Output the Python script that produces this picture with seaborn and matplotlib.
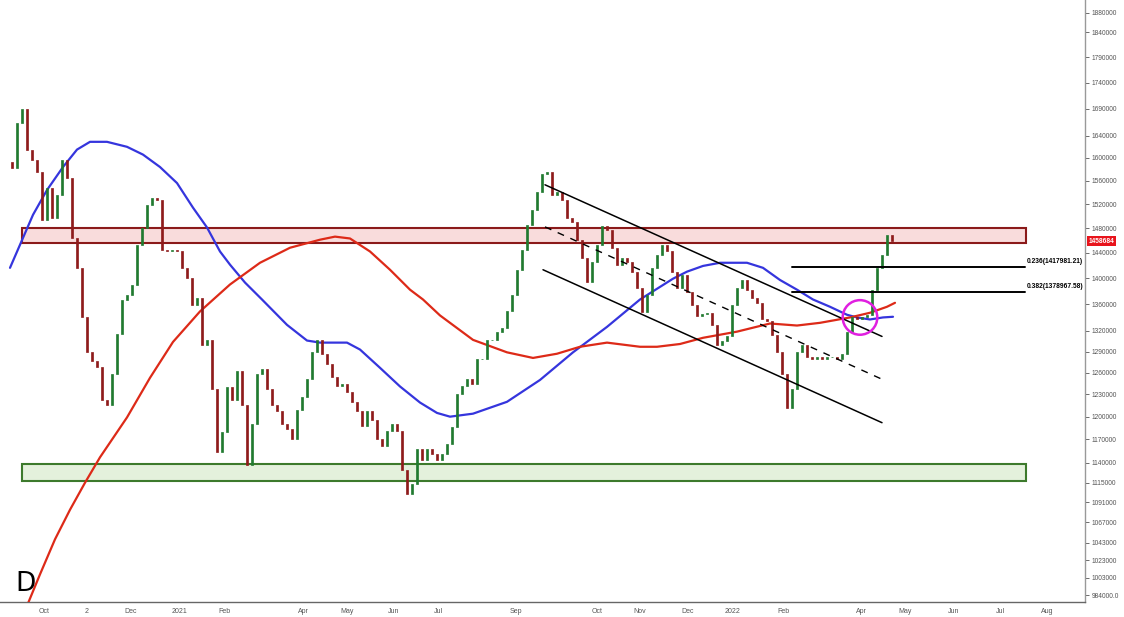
import numpy as np
import pandas as pd
import matplotlib
matplotlib.use("Agg")
import matplotlib.pyplot as plt
from matplotlib.patches import Rectangle
import seaborn as sns

# closing prices (thousands), one candle ~ every 2.5 trading days
close_k = [
    1583, 1663, 1690, 1615, 1597, 1576, 1494, 1548, 1497, 1535,
    1597, 1565, 1464, 1416, 1340, 1290, 1276, 1268, 1223, 1216,
    1258, 1316, 1367, 1374, 1389, 1453, 1480, 1518, 1530, 1527,
    1445, 1442, 1445, 1442, 1416, 1400, 1359, 1370, 1300, 1307,
    1237, 1154, 1180, 1240, 1223, 1262, 1216, 1137, 1190, 1258,
    1265, 1237, 1216, 1207, 1190, 1183, 1170, 1209, 1226, 1251,
    1290, 1307, 1286, 1272, 1254, 1241, 1244, 1234, 1220, 1207,
    1188, 1207, 1196, 1170, 1162, 1181, 1190, 1181, 1131, 1101,
    1114, 1157, 1144, 1157, 1151, 1144, 1151, 1164, 1186, 1230,
    1241, 1251, 1244, 1279, 1279, 1307, 1307, 1318, 1325, 1349,
    1374, 1413, 1445, 1485, 1510, 1541, 1571, 1576, 1535, 1541,
    1527, 1497, 1490, 1461, 1432, 1394, 1426, 1453, 1483, 1477,
    1448, 1421, 1432, 1426, 1410, 1385, 1348, 1374, 1416, 1437,
    1453, 1442, 1410, 1385, 1405, 1379, 1358, 1342, 1345, 1346,
    1329, 1299, 1305, 1313, 1358, 1385, 1397, 1382, 1370, 1362,
    1337, 1334, 1314, 1290, 1258, 1212, 1237, 1290, 1300, 1283,
    1279, 1283, 1279, 1282, 1283, 1279, 1286, 1319, 1340, 1337,
    1340, 1343, 1382, 1416, 1437, 1469, 1458.684,
]
first_open_k = 1592

# moving averages (candle index, thousands)
blue_idx = [-0.4, 2.2, 4.2, 7.0, 10.2, 13.0, 15.6, 19.0, 23.0, 26.2, 29.6, 33.0,
            36.2, 39.0, 41.6, 43.6, 46.6, 50.0, 55.0, 59.0, 61.6, 67.0, 69.6,
            73.6, 77.6, 81.6, 85.0, 87.6, 92.2, 99.0, 105.6, 112.2, 119.0,
            125.6, 132.2, 135.0, 138.2, 141.6, 147.0, 150.2, 153.6, 157.0,
            160.2, 163.6, 167.0, 169.0, 171.6, 174.2, 176.2]
blue_k = [1416, 1464, 1502, 1544, 1584, 1615, 1629, 1629, 1620, 1606, 1584, 1556,
          1514, 1481, 1442, 1421, 1393, 1367, 1329, 1306, 1303, 1303, 1293,
          1267, 1241, 1219, 1205, 1200, 1204, 1220, 1250, 1289, 1326,
          1367, 1399, 1410, 1419, 1424, 1424, 1416, 1397, 1382,
          1367, 1356, 1344, 1340, 1337, 1340, 1341]

red_idx = [2.0, 3.2, 5.6, 8.6, 11.6, 14.6, 17.6, 23.0, 27.6, 32.2, 37.6, 43.6,
           49.6, 55.6, 61.6, 64.6, 67.6, 71.6, 75.6, 79.6, 82.2, 85.6, 92.2,
           99.0, 104.2, 109.0, 113.6, 119.0, 125.6, 129.0, 133.6, 138.2, 145.0,
           151.6, 157.0, 161.6, 167.6, 171.6, 175.0, 176.6]
red_k = [947, 975, 1007, 1047, 1082, 1115, 1147, 1199, 1253, 1304, 1349, 1390,
         1424, 1448, 1461, 1466, 1463, 1442, 1413, 1382, 1367, 1343, 1307,
         1289, 1281, 1287, 1297, 1303, 1297, 1297, 1301, 1310, 1319,
         1331, 1328, 1332, 1340, 1347, 1356, 1362]

tick_idx = [6.4, 15.0, 23.8, 33.4, 42.4, 58.2, 67.0, 76.4, 85.2, 100.8,
            117.0, 125.6, 135.2, 144.2, 154.2, 169.8, 178.6, 188.4, 197.6, 207.0]
tick_labels = ["Oct", "2", "Dec", "2021", "Feb", "Apr", "May", "Jun", "Jul", "Sep",
               "Oct", "Nov", "Dec", "2022", "Feb", "Apr", "May", "Jun", "Jul", "Aug"]

price_ticks = [1880000, 1840000, 1790000, 1740000, 1690000, 1640000, 1600000,
               1560000, 1520000, 1480000, 1440000, 1400000, 1360000, 1320000,
               1290000, 1260000, 1230000, 1200000, 1170000, 1140000, 1115000,
               1091000, 1067000, 1043000, 1023000, 1003000, 984000]
price_tick_labels = [str(p) for p in price_ticks[:-1]] + ["984000.0"]

resistance = (1456000, 1480000)
support = (1117000, 1138000)
zone_span = (2.0, 202.8)

chan_idx = [106.6, 174.0]
chan_upper = [1553000, 1312000]
chan_mid = [1482000, 1251000]
chan_lower_idx = [106.2, 174.0]
chan_lower = [1413000, 1192000]

fib_levels = [1417981.21, 1378967.58]
fib_names = ["0.236", "0.382"]
fib_span = (156.0, 202.6)

last_price = 1458684
circle_at = (169.6, 1340000)

# ---- build candles
close = np.array(close_k) * 1000
opens = np.r_[first_open_k * 1000, close[:-1]]
df = pd.DataFrame({"idx": np.arange(len(close)), "open": opens, "close": close})
df["up"] = df["close"] >= df["open"]
df["lo"] = df[["open", "close"]].min(axis=1)
df["hi"] = df[["open", "close"]].max(axis=1)

GREEN = "#217a30"
RED = "#8e1b1b"

sns.set_style("white")
plt.rcParams["font.family"] = ["Liberation Sans", "DejaVu Sans"]

fig = plt.figure(figsize=(11.24, 6.17), dpi=100)
ax = fig.add_axes([0, 15 / 617, 1085 / 1124, 602 / 617])

ax.set_yscale("log")
ax.set_xlim(-2.4, 214.6)
ax.set_ylim(976500, 1907300)

# zones
ax.add_patch(Rectangle((zone_span[0], resistance[0]), zone_span[1] - zone_span[0],
                       resistance[1] - resistance[0], facecolor="#f9dcdc",
                       edgecolor="#8b1a1a", linewidth=1.5, zorder=1))
ax.add_patch(Rectangle((zone_span[0], support[0]), zone_span[1] - zone_span[0],
                       support[1] - support[0], facecolor="#e4f1dc",
                       edgecolor="#3d7a2c", linewidth=1.5, zorder=1))

# moving averages
sns.lineplot(x=blue_idx, y=np.array(blue_k) * 1000, color="#3535dd", linewidth=1.6,
             ax=ax, zorder=3)
sns.lineplot(x=red_idx, y=np.array(red_k) * 1000, color="#dd2a18", linewidth=1.6,
             ax=ax, zorder=3, sort=False)

# candles
colors = np.where(df["up"], GREEN, RED)
ax.bar(df["idx"], df["hi"] - df["lo"], bottom=df["lo"], width=0.42,
       color=colors, edgecolor=colors, linewidth=0.5, zorder=4)

# channel
ax.plot(chan_idx, chan_upper, color="black", linewidth=1.1, zorder=5)
ax.plot(chan_lower_idx, chan_lower, color="black", linewidth=1.1, zorder=5)
ax.plot(chan_idx, chan_mid, color="black", linewidth=1.0, dashes=(5, 5), zorder=5)

# fib levels
for lvl, name in zip(fib_levels, fib_names):
    ax.plot(fib_span, [lvl, lvl], color="black", linewidth=1.4, zorder=5)
    ax.text(fib_span[1] + 0.4, lvl * 1.002, f"{name}({lvl:.2f})", fontsize=4.8,
            fontweight="bold", va="bottom", ha="left", color="black")

# breakout circle
ax.scatter([circle_at[0]], [circle_at[1]], s=620, facecolors="none",
           edgecolors="#e01fe0", linewidths=1.8, zorder=6)

# axes styling
ax.yaxis.tick_right()
ax.set_yticks(price_ticks)
ax.set_yticklabels(price_tick_labels)
ax.yaxis.set_minor_locator(matplotlib.ticker.NullLocator())
ax.set_xticks(tick_idx)
ax.set_xticklabels(tick_labels)
ax.tick_params(axis="y", labelsize=4.8, colors="#555555", length=3, width=0.6, pad=2,
               right=True, left=False)
ax.tick_params(axis="x", labelsize=5, colors="#555555", length=2.5, width=0.6, pad=1.5)
for s in ["top", "left"]:
    ax.spines[s].set_visible(False)
ax.spines["bottom"].set_color("#666666")
ax.spines["bottom"].set_linewidth(1.0)
ax.spines["right"].set_color("#999999")
ax.spines["right"].set_linewidth(1.0)
ax.set_xlabel("")
ax.set_ylabel("")

# last price tag
ax.text(1.003, last_price, str(last_price), transform=ax.get_yaxis_transform(),
        fontsize=4.8, fontweight="bold", color="white", va="center", ha="left",
        bbox=dict(boxstyle="square,pad=0.25", facecolor="#e8141c", edgecolor="none"),
        clip_on=False)

ax.text(0.014, 0.008, "D", transform=ax.transAxes, fontsize=19, color="black",
        va="bottom", ha="left", family="DejaVu Sans")

fig.savefig("out.png", dpi=100)
